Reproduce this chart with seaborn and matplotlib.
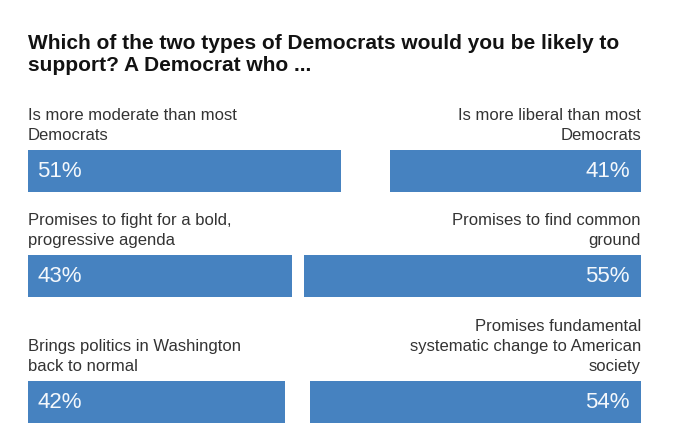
import numpy as np
import pandas as pd
import matplotlib
matplotlib.use('Agg')
import matplotlib.pyplot as plt
import seaborn as sns

#------------------------DATA---------------------------------------------------
title_lines = ['Which of the two types of Democrats would you be likely to',
               'support? A Democrat who ...']

left_labels = [['Is more moderate than most', 'Democrats'],
               ['Promises to fight for a bold,', 'progressive agenda'],
               ['Brings politics in Washington', 'back to normal']]
left_values = [51, 43, 42]

right_labels = [['Is more liberal than most', 'Democrats'],
                ['Promises to find common', 'ground'],
                ['Promises fundamental', 'systematic change to American', 'society']]
right_values = [41, 55, 54]

#------------------------LAYOUT (pixels)----------------------------------------
W, H = 680, 443
x0, x1 = 28, 641          # full 0-100% span
bar_tops = [150, 255, 381]
bar_h = 42
blue = '#4682c0'

sns.set_style('white')
plt.rcParams['font.family'] = ['Liberation Sans', 'DejaVu Sans']

fig = plt.figure(figsize=(W / 100, H / 100), dpi=100)


def fy(y):
    return 1 - y / H


# title
for i, line in enumerate(title_lines):
    fig.text(x0 / W, fy(49 + i * 22), line, fontsize=15, fontweight='bold',
             color='#121212', va='baseline', ha='left')

pct_font = dict(color='#f4f8fc', fontsize=16, va='baseline',
                fontfamily=['Liberation Sans', 'DejaVu Sans'], fontweight='normal')

for row in range(3):
    top = bar_tops[row]
    rect = [x0 / W, fy(top + bar_h), (x1 - x0) / W, bar_h / H]

    # left bar, grows from 0 to the right
    axl = fig.add_axes(rect)
    sns.barplot(x=[left_values[row]], y=[left_labels[row][0]], orient='h',
                color=blue, width=1, saturation=1, linewidth=0, ax=axl)
    axl.set_xlim(0, 100)
    axl.axis('off')
    axl.text(1.5, 0.35, f'{left_values[row]}%', transform=axl.get_xaxis_transform(),
             ha='left', **pct_font)

    # right bar, grows from 100 to the left
    axr = fig.add_axes(rect)
    sns.barplot(x=[right_values[row]], y=[right_labels[row][0]], orient='h',
                color=blue, width=1, saturation=1, linewidth=0, ax=axr)
    axr.set_xlim(100, 0)
    axr.axis('off')
    axr.patch.set_alpha(0)
    axr.text(1.8, 0.35, f'{right_values[row]}%', transform=axr.get_xaxis_transform(),
             ha='right', **pct_font)

    # category labels above the bars
    for lines, x, ha in [(left_labels[row], x0, 'left'), (right_labels[row], x1, 'right')]:
        n = len(lines)
        for i, line in enumerate(lines):
            fig.text(x / W, fy(top - 10 - (n - 1 - i) * 20), line, fontsize=12,
                     color='#333333', ha=ha, va='baseline')

fig.savefig('out.png', dpi=100)
